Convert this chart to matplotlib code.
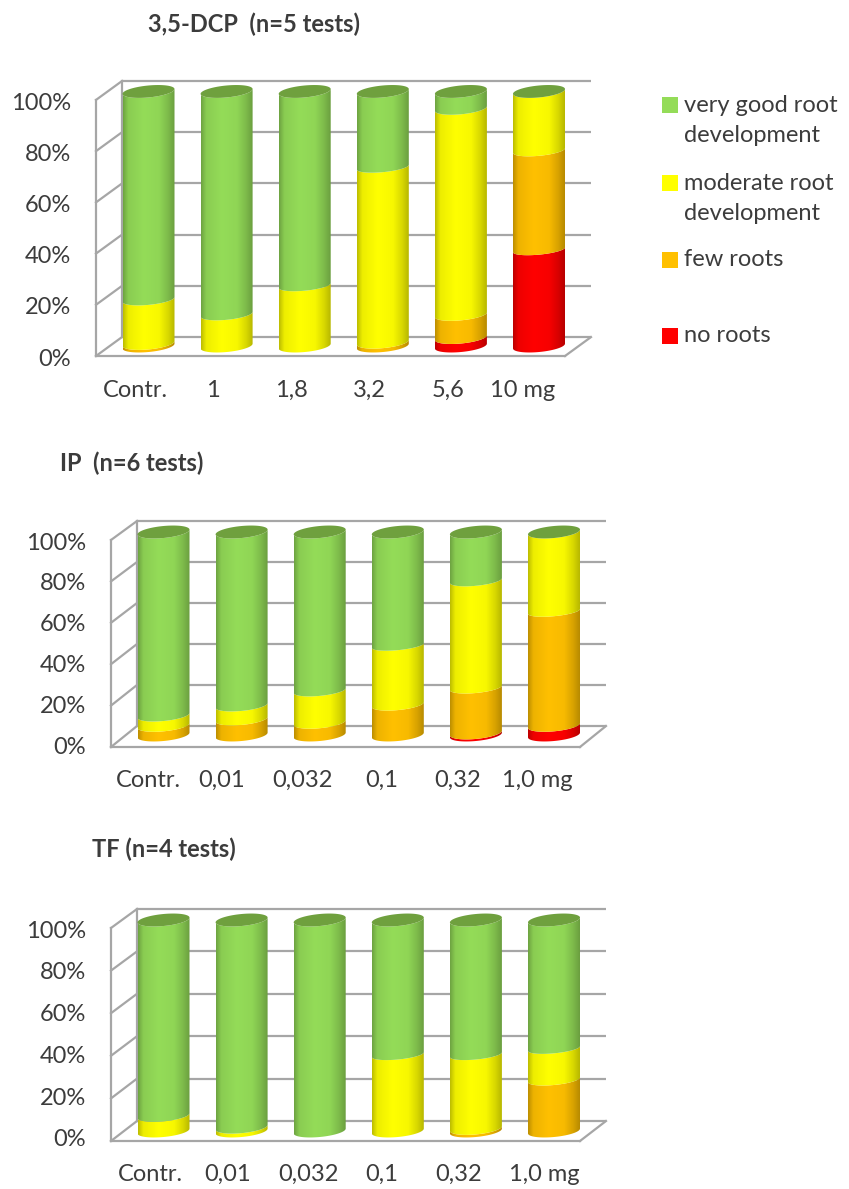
import numpy as np
import matplotlib
matplotlib.use("Agg")
import matplotlib.pyplot as plt
from matplotlib.colors import LinearSegmentedColormap, to_rgb
from matplotlib.patches import Polygon, Rectangle

plt.rcParams['font.family'] = ['Lato', 'DejaVu Sans']

W, H = 849, 1189

pct_ticks = [0, 20, 40, 60, 80, 100]

# stacked from the bottom: no roots, few roots, moderate, very good
dcp_labels = ['Contr.', '1', '1,8', '3,2', '5,6', '10 mg']
dcp_none = [0, 0, 0, 0, 3.3, 37.8]
dcp_few = [1, 0, 0, 1.5, 9, 39]
dcp_mod = [17.3, 12.5, 23.8, 68.8, 81, 23.2]
dcp_good = [81.7, 87.5, 76.2, 29.7, 6.7, 0]

ip_labels = ['Contr.', '0,01', '0,032', '0,1', '0,32', '1,0 mg']
ip_none = [0, 0, 0, 0, 1, 4.7]
ip_few = [4.7, 7.8, 6.2, 15, 22.3, 56.2]
ip_mod = [5, 6.8, 15.7, 29.1, 52.8, 39.1]
ip_good = [90.3, 85.4, 78.1, 55.9, 23.9, 0]

tf_labels = ['Contr.', '0,01', '0,032', '0,1', '0,32', '1,0 mg']
tf_none = [0, 0, 0, 0, 0, 0]
tf_few = [0, 0, 0, 0, 1.2, 24.3]
tf_mod = [7.3, 1.8, 0, 36.2, 35, 14.8]
tf_good = [92.7, 98.2, 100, 63.8, 63.8, 60.9]

colors = ['#FF0000', '#FFC000', '#FFFF00', '#94DC58']
cap_color = '#6FA03E'
grid_color = '#A6A6A6'
text_color = '#3C3C3C'

shade_x = [0, 0.1, 0.4, 0.7, 0.88, 1]
shade_v = [0.74, 0.93, 1.0, 0.97, 0.84, 0.72]


def shaded_cmap(color):
    rgb = np.array(to_rgb(color))
    return LinearSegmentedColormap.from_list(
        color, [(x, tuple(rgb * v)) for x, v in zip(shade_x, shade_v)])


cmaps = [shaded_cmap(c) for c in colors]
gradient = np.linspace(0, 1, 128).reshape(1, -1)


def draw_chart(title, title_x, title_y, labels, series, tick_shift,
               left, front_100, front_0, back_100, back_0, bar_100, bar_0, label_100, label_0):
    # axes box runs from the front wall to the back right corner, in pixels
    spacing = 78.1
    first = left + 52.5
    right = left + 495
    hw = 26 / spacing
    depth = 26 / spacing
    scale = (bar_0 - bar_100) / 100

    def val(px):
        return (bar_0 - px) / scale

    ax = fig.add_axes([left / W, 1 - front_0 / H, (right - left) / W, (front_0 - back_100) / H])
    ax.set_xlim((left - first) / spacing, (right - first) / spacing)
    ax.set_ylim(val(front_0), val(back_100))
    x0, x1 = ax.get_xlim()

    front = [val(front_0 + (front_100 - front_0) * p / 100) for p in pct_ticks]
    back = [val(back_0 + (back_100 - back_0) * p / 100) for p in pct_ticks]
    label_pos = [val(label_0 + (label_100 - label_0) * p / 100) for p in pct_ticks]

    line = dict(color=grid_color, lw=1.6, clip_on=False, zorder=1)
    ax.hlines(back, x0 + depth, x1, **line)
    ax.plot([x0, x0], [front[0], front[-1]], **line)
    ax.plot([x0 + depth, x0 + depth], [back[0], back[-1]], **line)
    for f, b in zip(front, back):
        ax.plot([x0, x0 + depth], [f, b], **line)
    ax.plot([x0, x1 - depth], [front[0], front[0]], **line)
    ax.plot([x1 - depth, x1], [front[0], back[0]], **line)

    k_px = 2.4
    t = np.linspace(np.pi, 2 * np.pi, 60)

    def arc(i, v):
        # the ring looks flatter half way up the cylinder
        b_px = 4.5 + 1.5 * abs(v - 50) / 50
        return i + hw * np.cos(t), v + (b_px * np.sin(t) + k_px * np.cos(t)) / scale

    for i in range(len(labels)):
        base = 0
        for s, cmap in zip(series, cmaps):
            v = s[i]
            if v > 0:
                xa, ya = arc(i, base)
                xb, yb = arc(i, base + v)
                pts = np.column_stack([np.r_[xa, xb[::-1]], np.r_[ya, yb[::-1]]])
                poly = Polygon(pts, closed=True, transform=ax.transData, fc='none', ec='none')
                ax.add_patch(poly)
                im = ax.imshow(gradient, cmap=cmap, vmin=0, vmax=1, aspect='auto', zorder=3,
                               extent=(i - hw, i + hw, base - 5, base + v + 5),
                               interpolation='bilinear')
                im.set_clip_path(poly)
            base += v
        # top of the cylinder
        tt = np.linspace(0, 2 * np.pi, 120)
        ax.fill(i + hw * np.cos(tt), base + (6.0 * np.sin(tt) + k_px * np.cos(tt)) / scale,
                color=cap_color, lw=0, zorder=4)

    ax.set_xlim(x0, x1)
    ax.set_ylim(val(front_0), val(back_100))
    ax.set_xticks(np.arange(len(labels)) + np.array(tick_shift) / spacing)
    ax.set_xticklabels(labels, va='baseline')
    ax.set_yticks(label_pos)
    ax.set_yticklabels([f'{p}%' for p in pct_ticks])
    ax.tick_params(axis='x', length=0, pad=29, labelsize=FS, labelcolor=text_color)
    ax.tick_params(axis='y', length=0, pad=18, labelsize=FS, labelcolor=text_color)
    for sp in ax.spines.values():
        sp.set_visible(False)
    ax.patch.set_alpha(0)

    fig.text(title_x / W, 1 - title_y / H, title, fontsize=FS, fontweight='bold',
             color=text_color, va='center', ha='left')


FS = 17
fig = plt.figure(figsize=(W / 100, H / 100), dpi=100, facecolor='white')

draw_chart('3,5-DCP  (n=5 tests)', 148, 24, dcp_labels, [dcp_none, dcp_few, dcp_mod, dcp_good],
           [-13, -14, -13, -13, -13, -16],
           96, 100, 357, 81, 338, 91.5, 347, 102, 358)
draw_chart('IP  (n=6 tests)', 60, 463, ip_labels, [ip_none, ip_few, ip_mod, ip_good],
           [-15, -20, -17, -16, -18, -17],
           111, 540, 747, 521, 726, 532, 735, 541, 745)
draw_chart('TF (n=4 tests)', 92, 849, tf_labels, [tf_none, tf_few, tf_mod, tf_good],
           [-13, -14, -11, -16, -17, -10],
           111, 928, 1141, 909, 1121, 920, 1131, 929, 1138)

# legend, placed by hand like in the source sheet
legend_text = [['very good root', 'development'], ['moderate root', 'development'],
               ['few roots'], ['no roots']]
legend_y = [105, 183, 260, 336]
legend_colors = [colors[3], colors[2], colors[1], colors[0]]
for txt, y, c in zip(legend_text, legend_y, legend_colors):
    fig.add_artist(Rectangle((662 / W, 1 - (y + 8) / H), 16 / W, 16 / H, transform=fig.transFigure,
                             fc=c, ec='none'))
    for n, s in enumerate(txt):
        fig.text(684 / W, 1 - (y + 31 * n) / H, s, fontsize=FS, color=text_color, va='center', ha='left')

fig.savefig('out.png', dpi=100)
